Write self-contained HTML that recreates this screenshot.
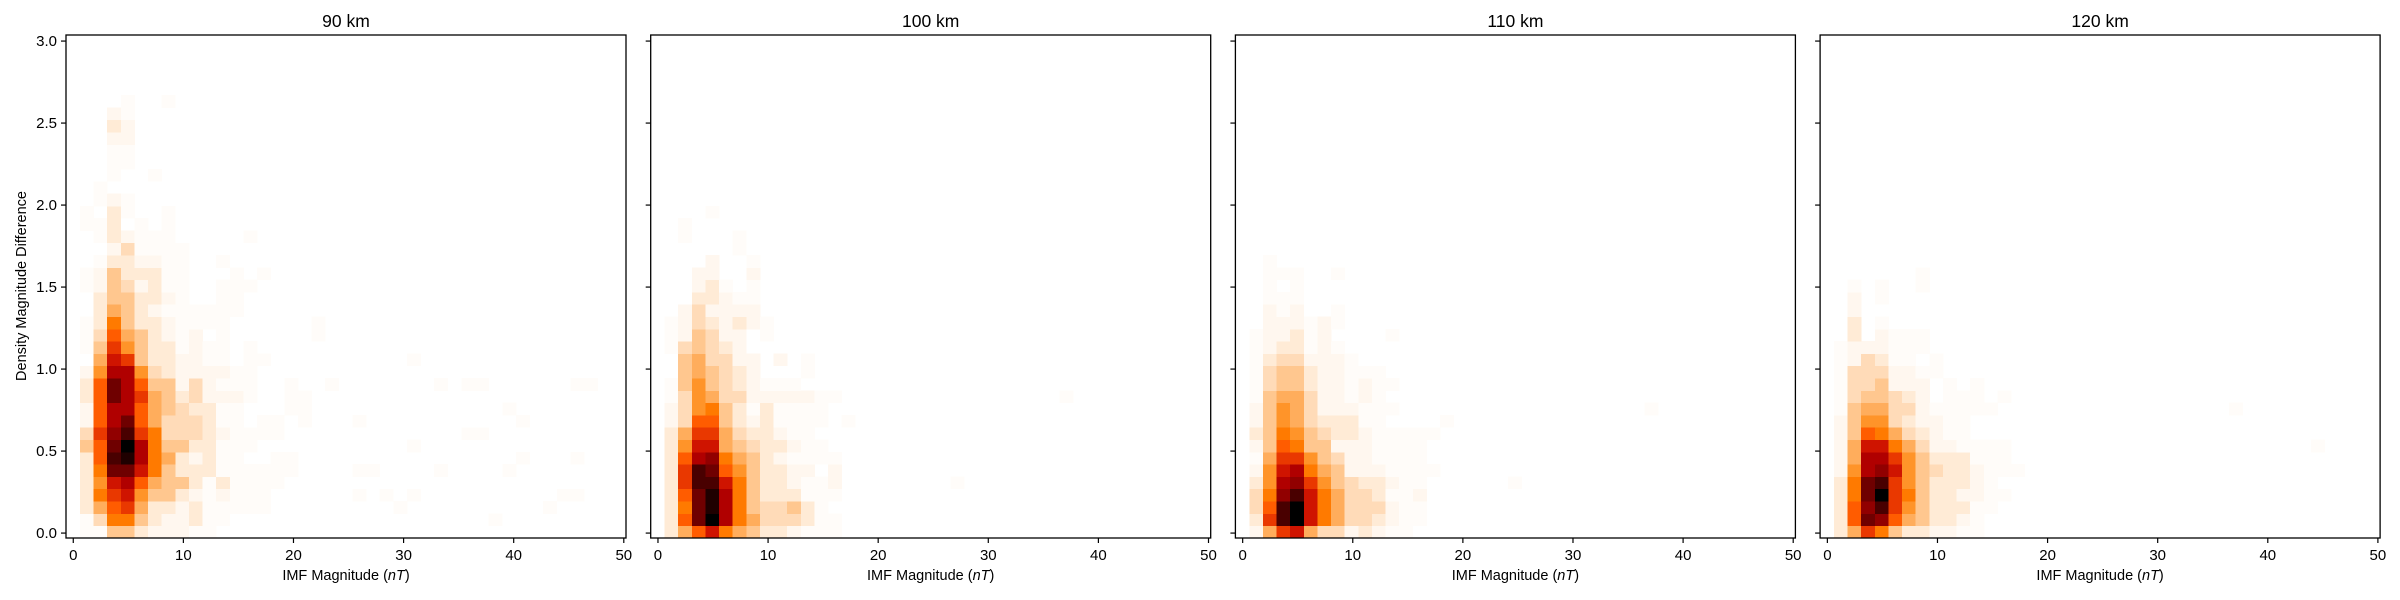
<!DOCTYPE html>
<html><head><meta charset="utf-8"><style>
html,body{margin:0;padding:0;background:#fff;}
svg{display:block;font-family:"Liberation Sans","DejaVu Sans",sans-serif;}
</style></head><body>
<svg id="chart" width="2400" height="600" viewBox="0 0 2400 600" xmlns="http://www.w3.org/2000/svg"></svg>
<script>
const titles = ["90 km","100 km","110 km","120 km"];
const xTicks = [0,10,20,30,40,50];
const yTicks = [0.0,0.5,1.0,1.5,2.0,2.5,3.0];
const levelValues = [0,0.006,0.016,0.04,0.07,0.11,0.16,0.21,0.26,0.32,0.39,0.46,0.54,0.62,0.71,0.81,0.92,1];
const levelChars = ".123456789abcdefgh";
const xBinStart = 0.6, xBinWidth = 1.2375, yBinStart = -0.03, yBinHeight = 0.075;

const grid90 = ["1155322211......","14885322311.....","369a6332311111..","38ab7553212111..","37bc96553131111.","38eeb85333111111","39fgc8632311..11","59ehc85533111...","4adfa8444321111.","29ce96444311.11.","29cc96543311...1","39eca65342221..1","39ec955242111..1","27cc743222211...",".6ba5332211.11..","15a75331211.1...","149653212.1.....","13853321111.....",".36532111111....",".3553321..11....","12542311..111...","12533311...1.1..",".1332211..1.....","..241111........",".132111.....1...","113.1.1.........","1.31..1.........",".121............",".1..............","..1..1..........","..11............","..11............","..22............","..32............","..21............","...1..1........."];
const grid100 = ["369b865332111...","39ehc86444311...","38egc8544531....","39egc85333111...","3affb85332112...","3afe9753322.2...","39cd865321111...","37bb65433211....","36aa6433211.....","249953231111.1..","247853131111....","1476442222211...","1575432111......",".565432...1.....",".564422.2.1.....","145432..........","125422.1........","12432321........",".242222.........","..33211.........","..231.1.........","..22..2.........","...2..1.........",".....1..........",".1...1..........",".1..............","...1............"];
const grid110 = ["26ab64423211....","3afhb86443211...","49fhb86444211...","48dfb86443112...","37cda75433211...","27bc8652221111..","16aa754221111...","2598552221111...","35875433211111..","2576433311....1.","25764222111.....","1566422121......","14553221211.....","1455322111......","13442221........","1233121.........","122312....1.....",".222121.........",".212..1.........",".111............",".1.1............",".111..1.........",".1.............."];
const grid120 = ["36a85332211.....","39ed9653321.....","39dfa7533311....","38eha85332211...","38efa7533321....","27cdb754332111..","26cca75333111...","26bb864221111...","2598643211......","2577432211......","156644211111....","1455432.111.1...","1445222.1.1.....","14442211........","124311.1........","1222111.........",".3.2111.........",".3.1............",".2..............",".2.1............",".1.1..1.........","......1........."];
const extras90 = [[17,16],[17,17],[24,14],[18,12],[16,10],[16,11],[16,9],[28,12],[29,12],[28,8],[29,8],[36,12],[36,6],[31,10],[32,9],[31,5],[32,6],[20,5],[21,5],[20,3],[20,9],[22,3],[24,3],[23,2],[34,2],[35,3],[36,3],[26,5],[26,12],[24,7],[37,12],[30,1]];
const extras100 = [[21,4],[29,11]];
const extras110 = [[29,10],[19,4]];
const extras120 = [[29,10],[35,7]];
const grids = [grid90,grid100,grid110,grid120];
const extrasAll = [extras90,extras100,extras110,extras120];

const NS = "http://www.w3.org/2000/svg";
const svg = document.getElementById('chart');
const panelLefts = [66, 650.7, 1235.4, 1820.1];
const PW = 560, PT = 35, PH = 503;
const xMin = -0.66, xMax = 50.2, yMin = -0.03, yMax = 3.037;
function cmap(v){
  const r = Math.min(1, 1.5*(1-v)), g = Math.max(0, 1-2*v), b = Math.max(0, 1-4*v);
  return `rgb(${Math.round(r*255)},${Math.round(g*255)},${Math.round(b*255)})`;
}
function mk(tag, attrs, parent){ const e = document.createElementNS(NS, tag); for (const k in attrs) e.setAttribute(k, attrs[k]); (parent||svg).appendChild(e); return e; }

titles.forEach((t, p) => {
  const L = panelLefts[p];
  const xs = x => L + (x - xMin) / (xMax - xMin) * PW;
  const ys = y => PT + (yMax - y) / (yMax - yMin) * PH;
  const g = mk('g', {});
  
  
  const cells = mk('g', {'shape-rendering':'crispEdges'}, g);
  
  
  const drawCell = (c, r, v) => {
    const x0 = xs(xBinStart + c*xBinWidth), x1 = xs(xBinStart + (c+1)*xBinWidth);
    const y1 = ys(yBinStart + r*yBinHeight), y0 = ys(yBinStart + (r+1)*yBinHeight);
    const rc = mk('rect', {x:x0, y:y0, width:x1-x0+0.4, height:y1-y0+0.4, fill:cmap(v)}, cells);
    
    
  };
  extrasAll[p].forEach(([c, r]) => drawCell(c, r, levelValues[1]));
  grids[p].forEach((row, r) => {
    for (let c = 0; c < row.length; c++) {
      const li = levelChars.indexOf(row[c]);
      if (li > 0) drawCell(c, r, levelValues[li]);
    }
  });
  const frame = mk('rect', {x:L, y:PT, width:PW, height:PH, fill:'none', stroke:'#000', 'stroke-width':1.3}, g);
  
  
  xTicks.forEach(v => {
    const x = xs(v);
    const tk = mk('line', {x1:x, x2:x, y1:PT+PH, y2:PT+PH+5, stroke:'#000', 'stroke-width':1.2}, g);
    
    
    const tl = mk('text', {x:x, y:PT+PH+22, 'font-size':15, 'text-anchor':'middle', fill:'#000'}, g);
    tl.textContent = v;
    
    
  });
  yTicks.forEach(v => {
    const y = ys(v);
    const tk = mk('line', {x1:L-5, x2:L, y1:y, y2:y, stroke:'#000', 'stroke-width':1.2}, g);
    
    
    if (p === 0) {
      const tl = mk('text', {x:L-9, y:y+5, 'font-size':15, 'text-anchor':'end', fill:'#000'}, g);
      tl.textContent = v.toFixed(1);
      
      
    }
  });
  const ti = mk('text', {x:L+PW/2, y:27, 'font-size':17.5, 'text-anchor':'middle', fill:'#000'}, g);
  ti.textContent = t;
  
  
  const xl = mk('text', {x:L+PW/2, y:580, 'font-size':14.5, 'text-anchor':'middle', fill:'#000'}, g);
  xl.innerHTML = 'IMF Magnitude (<tspan font-style="italic">nT</tspan>)';
  
  
});
const yl = mk('text', {x:0, y:0, 'font-size':14.5, 'text-anchor':'middle', fill:'#000', transform:'translate(26,286) rotate(-90)'});
yl.textContent = 'Density Magnitude Difference';


</script>
</body></html>
